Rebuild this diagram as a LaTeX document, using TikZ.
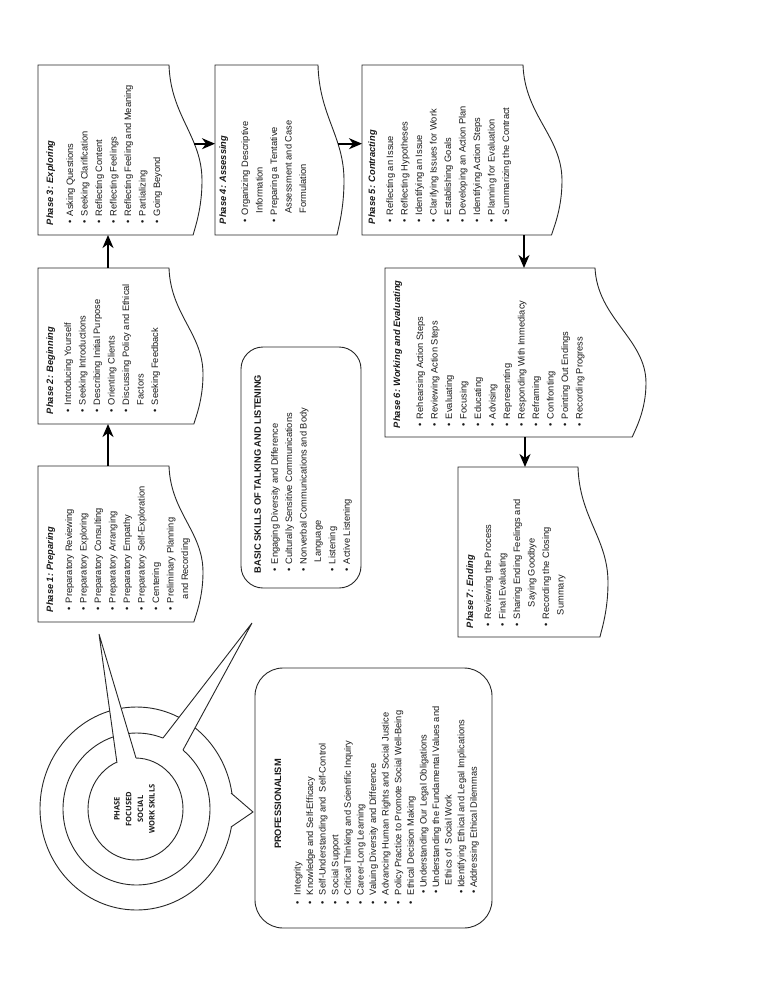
\documentclass[tikz,border=0pt]{standalone}
\usepackage{fontspec}
\setmainfont{Liberation Sans}
\newfontfamily\circfont{Open Sans}
\usetikzlibrary{arrows.meta,calc}
\newcommand\ttl[1]{\textbf{\textit{#1}}}
\newcommand\pb{\makebox[9pt][l]{\hspace*{1.4pt}\textbullet}}
\newcommand\pc{\hspace*{9pt}}
\newcommand\mb{\makebox[9.6pt][l]{\textbullet}}
\newcommand\phaseshape[6]{% name L T R B A
  \node[area, minimum width={(#4-#2)*1pt}, minimum height={(#5-#3)*1pt}] (#1) at (#2,#3) {};
  \draw[boxline] (#2,#3) -- (#4,#3)
    .. controls ({#4+0.05*#6},{#3+0.30*(#5-#3)}) and ({#4+#6},{#3+0.42*(#5-#3)}) ..
    ({#4+#6},{#3+0.68*(#5-#3)}) coordinate[pos=0.68] (#1w)
    .. controls ({#4+#6},{#3+0.84*(#5-#3)}) and ({#4+0.8*#6},{#3+0.95*(#5-#3)}) ..
    ({#4+0.73*#6},#5) -- (#2,#5) -- cycle;
}
\begin{document}
\begin{tikzpicture}[x=1pt,y=-1pt,
  boxline/.style={draw=black!85, line width=0.9pt},
  arr/.style={draw=black, line width=1.6pt, -{Stealth[length=13pt,width=11pt,inset=4pt]}},
  ptext/.style={rotate=90, anchor=north west, inner sep=0pt, outer sep=0pt, align=left,
     font=\fontsize{9.3}{14.5}\selectfont, text=black!90},
  area/.style={inner sep=0pt, outer sep=0pt, anchor=north west},
  rbox/.style={area, draw=black!85, line width=0.9pt},
  ring/.style={draw=black!85, line width=0.9pt, fill=white},
  spike/.style={draw=black!85, line width=0.9pt},
]
\useasboundingbox (0,0) rectangle (768,994);

% ---- concentric rings with pointers ----
\draw[ring] (136.5,808.5) ellipse [x radius=96.5pt, y radius=101.5pt];
\fill[white] (231,793) -- (253,812) -- (231,827) -- (225,826) -- (225,794) -- cycle;
\draw[spike] (231,793) -- (253,812) -- (231,827);

\draw[ring] (136.5,809) ellipse [x radius=73.5pt, y radius=76pt];
\fill[white] (163,738) -- (252,623) -- (183,750) -- (180,755) -- (160,743) -- cycle;
\draw[spike] (163,738) -- (252,623) -- (183,750);

\draw[ring] (135.5,809) ellipse [x radius=47.5pt, y radius=51pt];
\fill[white] (117,763) -- (99,634) -- (136,758) -- (136,763) -- (118,768) -- cycle;
\draw[spike] (117,763) -- (99,634) -- (136,758);

\node[rotate=90, align=center, inner sep=0pt, text=black!90,
      font=\circfont\bfseries\fontsize{7.5}{11.7}\selectfont] (core) at (134.5,809)
  {PHASE\\FOCUSED\\SOCIAL\\WORK SKILLS};

% ---- phase boxes ----
\phaseshape{p1}{38}{466}{169}{622}{34}
\phaseshape{p2}{38}{268}{169}{424}{34}
\phaseshape{p3}{38}{65}{169}{235}{33}
\phaseshape{p4}{215}{65}{318}{235}{26}
\phaseshape{p5}{362}{65}{523}{235}{39}
\phaseshape{p6}{385}{268}{595}{437}{51}
\phaseshape{p7}{458}{467}{578}{637}{30}

% ---- arrows ----
\coordinate (a12) at (108,0);
\coordinate (a56) at (524,0);
\coordinate (a67) at (525,0);
\draw[arr] (p1.north -| a12) -- (p2.south -| a12);
\draw[arr] (p2.north -| a12) -- (p3.south -| a12);
\draw[arr] (p3w) -- (p3w -| p4.west);
\draw[arr] (p4w) -- (p4w -| p5.west);
\draw[arr] (p5.south -| a56) -- (p6.north -| a56);
\draw[arr] (p6.south -| a67) -- (p7.north -| a67);

% ---- phase texts ----
\node[ptext] (p1t) at (46.3,612) {\ttl{Phase 1: Preparing}\\[4.5pt]
 \pb Preparatory Reviewing\\
 \pb Preparatory Exploring\\
 \pb Preparatory Consulting\\
 \pb Preparatory Arranging\\
 \pb Preparatory Empathy\\
 \pb Preparatory Self-Exploration\\
 \pb Centering\\
 \pb Preliminary Planning\\
 \pc\hspace*{4pt}and Recording};

\node[ptext] (p2t) at (46.3,414) {\ttl{Phase 2: Beginning}\\[3.5pt]
 \pb Introducing Yourself\\
 \pb Seeking Introductions\\
 \pb Describing Initial Purpose\\
 \pb Orienting Clients\\
 \pb Discussing Policy and Ethical\\
 \pc Factors\\
 \pb Seeking Feedback};

\node[ptext] (p3t) at (46.3,225) {\ttl{Phase 3: Exploring}\\[5.5pt]
 \pb Asking Questions\\
 \pb Seeking Clarification\\
 \pb Reflecting Content\\
 \pb Reflecting Feelings\\
 \pb Reflecting Feeling and Meaning\\
 \pb Partializing\\
 \pb Going Beyond};

\node[ptext] (p4t) at (219.3,224) {\ttl{Phase 4: Assessing}\\[7.5pt]
 \pb Organizing Descriptive\\
 \pc\hspace*{1.5pt}Information\\
 \pb Preparing a Tentative\\
 \pc\hspace*{1.5pt}Assessment and Case\\
 \pc\hspace*{1.5pt}Formulation};

\node[ptext] (p5t) at (368.3,224) {\ttl{Phase 5: Contracting}\\[3.5pt]
 \pb Reflecting an Issue\\
 \pb Reflecting Hypotheses\\
 \pb Identifying an Issue\\
 \pb Clarifying Issues for Work\\
 \pb Establishing Goals\\
 \pb Developing an Action Plan\\
 \pb Identifying Action Steps\\
 \pb Planning for Evaluation\\
 \pb Summarizing the Contract};

\node[ptext] (p6t) at (393.3,428) {\ttl{Phase 6: Working and Evaluating}\\[8.5pt]
 \pb Rehearsing Action Steps\\
 \pb Reviewing Action Steps\\
 \pb Evaluating\\
 \pb Focusing\\
 \pb Educating\\
 \pb Advising\\
 \pb Representing\\
 \pb Responding With Immediacy\\
 \pb Reframing\\
 \pb Confronting\\
 \pb Pointing Out Endings\\
 \pb Recording Progress};

\node[ptext] (p7t) at (466.3,628) {\ttl{Phase 7: Ending}\\[3.5pt]
 \pb Reviewing the Process\\
 \pb Final Evaluating\\
 \pb Sharing Ending Feelings and\\
 \pc\hspace*{12pt}Saying Goodbye\\
 \pb Recording the Closing\\
 \pc\hspace*{4pt}Summary};

% ---- basic skills box ----
\node[rbox, rounded corners=22pt, minimum width=120pt, minimum height=241pt] (basic) at (241,347) {};
\node[ptext, font=\fontsize{9.3}{14.4}\selectfont] (basict) at (254.3,573)
 {\textbf{BASIC SKILLS OF TALKING AND LISTENING}\\[2.6pt]
 \pb Engaging Diversity and Difference\\
 \pb Culturally Sensitive Communications\\
 \pb Nonverbal Communications and Body\\
 \pc\hspace*{2pt}Language\\
 \pb Listening\\
 \pb Active Listening};

% ---- professionalism box ----
\node[rbox, rounded corners=28pt, minimum width=237pt, minimum height=260pt] (prof) at (255,668) {};
\node[rotate=90, inner sep=0pt, font=\fontsize{9.3}{12.6}\selectfont\bfseries, text=black!90]
  (proft) at (278,804) {PROFESSIONALISM};
\node[ptext, font=\fontsize{9.3}{12.6}\selectfont] (profl) at (293.8,904.6)
 {\mb Integrity\\
  \mb Knowledge and Self-Efficacy\\
  \mb Self-Understanding and\ \ Self-Control\\
  \mb Social Support\\
  \mb Critical Thinking and Scientific Inquiry\\
  \mb Career-Long Learning\\
  \mb Valuing Diversity and Difference\\
  \mb Advancing Human Rights and Social Justice\\
  \mb Policy Practice to Promote Social Well-Being\\
  \mb Ethical Decision Making\\
  \hspace*{11pt}\textbullet\ Understanding Our Legal Obligations\\
  \hspace*{11pt}\textbullet\ Understanding the Fundamental Values and\\
  \hspace*{19.6pt}Ethics of\ \ Social Work\\
  \hspace*{11pt}\textbullet\ Identifying Ethical and Legal Implications\\
  \hspace*{11pt}\textbullet\ Addressing Ethical Dilemmas};
\end{tikzpicture}
\end{document}
